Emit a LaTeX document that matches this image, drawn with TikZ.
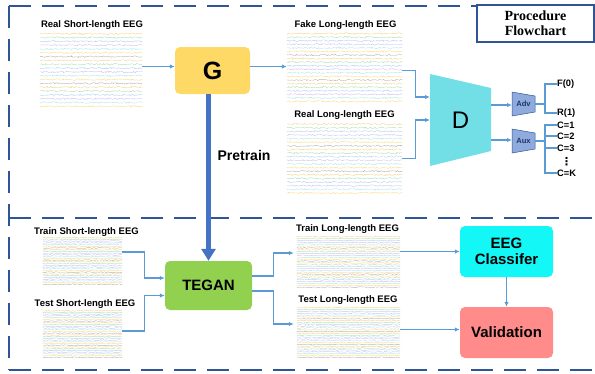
\documentclass[tikz,border=0pt]{standalone}
\usepackage{fontspec}
\setmainfont{Liberation Sans}
\newfontfamily\serifbf{Liberation Serif}
\newfontfamily\dejavu{DejaVu Sans}
\usetikzlibrary{arrows.meta,decorations.pathmorphing,calc}
\definecolor{frameblue}{HTML}{2F5597}
\definecolor{arrowblue}{HTML}{5B9BD5}
\definecolor{thickblue}{HTML}{4472C4}
\definecolor{gyellow}{HTML}{FFD966}
\definecolor{dcyan}{HTML}{72DEE6}
\definecolor{headblue}{HTML}{8FAADC}
\definecolor{tegreen}{HTML}{92D050}
\definecolor{clscyan}{HTML}{14F7F7}
\definecolor{valred}{HTML}{FF8B8B}
\definecolor{navy}{HTML}{1F3864}
\definecolor{tc0}{HTML}{A6A6A6}
\definecolor{tc1}{HTML}{F9C77A}
\definecolor{tc2}{HTML}{9EDCA6}
\definecolor{tc3}{HTML}{A4C6EA}
\definecolor{tc4}{HTML}{C8B4EC}
\definecolor{tc5}{HTML}{9EE3EA}
\definecolor{tc6}{HTML}{FFD36B}
\tikzset{
  frame/.style={frameblue,line width=2.6pt,dash pattern=on 22pt off 11pt},
  arr/.style={draw=arrowblue,line width=1.2pt,-{Latex[length=5pt,width=4.5pt]}},
  br/.style={draw=arrowblue,line width=1.1pt},
  lbl/.style={font=\bfseries\fontsize{9.5}{11}\selectfont,inner sep=0pt},
  blabel/.style={font=\bfseries\fontsize{9.3}{9.5}\selectfont,inner sep=0pt,anchor=west},
  box/.style={rounded corners=5pt,inner sep=0pt,align=center,font=\bfseries\fontsize{15}{17}\selectfont},
  plotbox/.style={inner sep=0pt,draw=none},
  trace/.style={decorate,line width=0.38pt,opacity=0.85},
  headpoly/.style={fill=headblue,draw=frameblue,line width=0.5pt},
  headtext/.style={font=\bfseries\fontsize{7.6}{8}\selectfont,text=navy,inner sep=0pt}
}
\newcommand{\eegtraces}[3]{%
  \foreach \i in {1,...,#2}{%
    \pgfmathsetmacro\f{(\i-0.5)/#2}%
    \pgfmathtruncatemacro\c{mod(\i,7)}%
    \draw[trace,color=tc\c,decoration={random steps,segment length=1.2pt,amplitude=#3}]
      ($(#1.north west)!\f!(#1.south west)$) -- ($(#1.north east)!\f!(#1.south east)$);
  }%
}
\begin{document}
\begin{tikzpicture}[x=1pt,y=-1pt]
\pgfmathsetseed{7}
\useasboundingbox (0,0) rectangle (595,373);
% frame
\draw[frame] (9,6) -- (477,6);
\draw[frame] (9,6) -- (9,370);
\draw[frame] (9,370) -- (595,370);
\draw[frame] (9,218) -- (595,218);
\node[draw=frameblue,line width=1.8pt,minimum width=117pt,minimum height=37pt,inner sep=0pt,
  font=\serifbf\bfseries\fontsize{14}{15}\selectfont,align=center] (proc) at (535.5,23.5) {Procedure\\Flowchart};

% plots
\node[plotbox,minimum width=102pt,minimum height=76pt] (rse) at (91,70) {};
\node[plotbox,minimum width=115pt,minimum height=71pt] (fle) at (344.5,67.5) {};
\node[plotbox,minimum width=115pt,minimum height=72pt] (rle) at (344.5,158.5) {};
\node[plotbox,minimum width=79pt,minimum height=48pt] (tse) at (82.5,261) {};
\node[plotbox,minimum width=79pt,minimum height=48pt] (tes) at (82.5,334) {};
\node[plotbox,minimum width=103pt,minimum height=52pt] (tle) at (348.5,262) {};
\node[plotbox,minimum width=103pt,minimum height=51pt] (tel) at (348.5,332.5) {};
\eegtraces{rse}{20}{0.8pt}
\eegtraces{fle}{20}{0.8pt}
\eegtraces{rle}{20}{0.8pt}
\eegtraces{tse}{28}{0.5pt}
\eegtraces{tes}{28}{0.5pt}
\eegtraces{tle}{28}{0.5pt}
\eegtraces{tel}{28}{0.5pt}

% labels
\node[lbl] (lrse) at (92,25) {Real Short-length EEG};
\node[lbl] (lfle) at (345.5,25) {Fake Long-length EEG};
\node[lbl] (lrle) at (344.5,115) {Real Long-length EEG};
\node[lbl] (ltse) at (86.5,232) {Train Short-length EEG};
\node[lbl] (ltes) at (85,304) {Test Short-length EEG};
\node[lbl] (ltle) at (347.5,229) {Train Long-length EEG};
\node[lbl] (ltel) at (348,300) {Test Long-length EEG};

% boxes
\node[box,fill=gyellow,minimum width=75pt,minimum height=47pt,font=\bfseries\fontsize{25}{25}\selectfont] (G) at (212.5,70.5) {G};
\node[box,fill=tegreen,minimum width=87pt,minimum height=49pt] (TEGAN) at (208.5,285.5) {TEGAN};
\node[box,fill=clscyan,minimum width=93pt,minimum height=51pt] (Cls) at (506.5,251.5) {EEG\\[-1pt]Classifer};
\node[box,fill=valred,minimum width=93pt,minimum height=51pt] (Val) at (506.5,332.5) {Validation};

% D
\fill[dcyan] (430,74) -- (491,88) -- (491,151) -- (430,166) -- cycle;
\node[font=\fontsize{24}{24}\selectfont,inner sep=0pt] (D) at (460.5,120) {D};
\coordinate (Din1) at (430,97);
\coordinate (Din2) at (430,120);
\coordinate (Dout1) at (491,105);
\coordinate (Dout2) at (491,140);

% Adv / Aux heads
\draw[headpoly] (512,92) -- (535,96) -- (535,112) -- (512,116) -- cycle;
\draw[headpoly] (512,129) -- (535,133) -- (535,149) -- (512,153) -- cycle;
\node[headtext] (Adv) at (523.5,104) {Adv};
\node[headtext] (Aux) at (523.5,141) {Aux};
\coordinate (AdvL) at (512,105);
\coordinate (AuxL) at (512,140);
\coordinate (AdvR) at (535,104);
\coordinate (AuxR) at (535,141);
\coordinate (bA) at (545,104);
\coordinate (bX) at (545,141);

\node[blabel] (F0) at (557,84) {F(0)};
\node[blabel] (R1) at (557,113) {R(1)};
\node[blabel] (C1) at (557,125) {C=1};
\node[blabel] (C2) at (557,136) {C=2};
\node[blabel] (C3) at (557,148) {C=3};
\node[blabel] (CK) at (557,173) {C=K};
\node[font=\dejavu\bfseries\fontsize{11}{11}\selectfont,inner sep=0pt] (dots) at (566.5,161.5) {⋮};

% connectors top
\draw[arr] ([yshift=4pt]G.west -| rse.east) -- ([yshift=4pt]G.west);
\draw[arr] ([yshift=4pt]G.east) -- ([yshift=4pt]G.east -| fle.west);
\draw[arr] ([yshift=-3pt]fle.east) -- ++(13,0) |- (Din1);
\draw[arr] (rle.east) -- ++(13,0) |- (Din2);
\draw[arr] (Dout1) -- (AdvL);
\draw[arr] (Dout2) -- (AuxL);
\draw[br] (AdvR) -- (bA);
\draw[br] (F0.west) -| (bA) |- (R1.west);
\draw[br] (AuxR) -- (bX);
\draw[br] (C1.west) -| (bX) |- (CK.west);
\draw[br] (C2.west) -- (C2.west -| bX);
\draw[br] (C3.west) -- (C3.west -| bX);

% pretrain
\draw[thickblue,line width=4.5pt,-{Triangle[length=12pt,width=14pt]}] (G.south -| TEGAN.north) -- (TEGAN.north);
\node[font=\bfseries\fontsize{14}{14}\selectfont,inner sep=0pt] (pre) at (244,155) {Pretrain};

% connectors bottom
\draw[arr] ([yshift=9pt]tse.east) -- ++(22,0) |- ([yshift=7.5pt]TEGAN.west);
\draw[arr] ([yshift=3pt]tes.east) -- ++(22,0) |- ([yshift=-10pt]TEGAN.west);
\draw[arr] ([yshift=9.5pt]TEGAN.east) -- ++(21,0) |- ([xshift=-3pt,yshift=9pt]tle.west);
\draw[arr] ([yshift=-5.5pt]TEGAN.east) -- ++(21,0) |- ([xshift=-3pt,yshift=8.5pt]tel.west);
\draw[arr] (Cls.west -| tle.east) -- (Cls.west);
\draw[arr] ([yshift=3pt]Val.west -| tel.east) -- ([yshift=3pt]Val.west);
\draw[arr] (Cls.south) -- (Val.north);
\end{tikzpicture}
\end{document}
